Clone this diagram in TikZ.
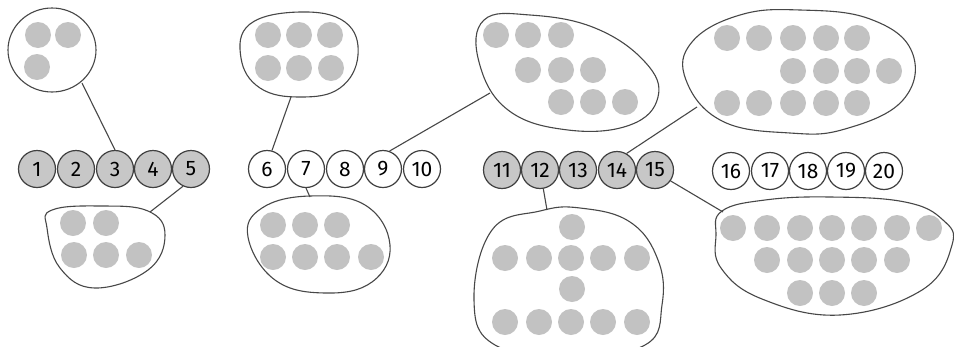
\documentclass[tikz,border=0pt]{standalone}
\usepackage{fontspec}
\setmainfont{Fira Sans}
\begin{document}
\begin{tikzpicture}[x=1pt,y=-1pt,
  numg/.style={circle,draw=black!75,line width=1.2pt,fill=black!22,minimum size=37pt,inner sep=0pt,font=\fontsize{21}{21}\selectfont},
  numw/.style={numg,fill=white},
  dot/.style={circle,fill=black!24,minimum size=26pt,inner sep=0pt},
  blob/.style={draw=black!72,line width=1.1pt},
  link/.style={draw=black!72,line width=1.1pt}]
\useasboundingbox[fill=white] (0,0) rectangle (954,346);
% number circles
\foreach \i/\x in {1/37,2/76,3/115,4/153,5/191}{\node[numg] (n\i) at (\x,169) {\i};}
\foreach \i/\x in {6/267,7/306,8/345,9/383,10/422}{\node[numw] (n\i) at (\x,169) {\i};}
\foreach \i/\x in {11/502,12/540,13/578,14/617,15/655}{\node[numg] (n\i) at (\x,170) {\i};}
\foreach \i/\x in {16/731,17/770,18/808,19/846,20/884}{\node[numw] (n\i) at (\x,171) {\i};}
% blob A (3)
\draw[blob] (52,50) ellipse [x radius=44, y radius=42];
\foreach \p in {(38,35),(68,35),(37,67)} \node[dot] at \p {};
\coordinate (ca) at (82,83);
\draw[link] (ca) -- (n3.north);
% blob B (5)
\draw[blob] plot[smooth cycle,tension=0.7] coordinates {(52,210) (100,206) (148,211) (165,235) (148,270) (95,288) (60,268) (47,228)};
\foreach \p in {(73,223),(106,223),(74,255),(106,255),(139,255)} \node[dot] at \p {};
\coordinate (cb) at (150,212);
\draw[link] (cb) -- (n5.-115);
% blob C (6)
\draw[blob] plot[smooth cycle,tension=0.7] coordinates {(250,24) (300,12) (345,22) (358,55) (340,88) (300,97) (260,88) (241,58)};
\foreach \p in {(268,35),(299,35),(330,35),(268,68),(299,68),(331,68)} \node[dot] at \p {};
\coordinate (cc) at (291,97);
\draw[link] (cc) -- (n6.75);
% blob D (7)
\draw[blob] plot[smooth cycle,tension=0.7] coordinates {(262,208) (310,196) (365,205) (390,245) (372,282) (325,293) (275,280) (248,237)};
\foreach \p in {(273,225),(305,225),(337,225),(273,257),(305,257),(337,257),(371,257)} \node[dot] at \p {};
\coordinate (cd) at (310,197);
\draw[link] (n7.south) -- (cd);
% blob E (9)
\draw[blob] plot[smooth cycle,tension=0.7] coordinates {(484,20) (530,15) (595,28) (645,62) (658,97) (630,125) (568,130) (508,110) (479,62)};
\foreach \p in {(496,35),(528,35),(561,35),(528,70),(561,70),(593,70),(561,102),(593,102),(625,102)} \node[dot] at \p {};
\coordinate (ce) at (490,93);
\draw[link] (ce) -- (n9.70);
% blob F (12)
\draw[blob] plot[smooth cycle,tension=0.7] coordinates {(492,230) (540,211) (580,208) (630,222) (658,260) (662,305) (645,345) (570,356) (495,345) (474,300)};
\foreach \p in {(572,227),(505,258),(539,258),(571,258),(603,258),(637,258),(572,289),(505,322),(539,322),(571,322),(603,322),(637,322)} \node[dot] at \p {};
\coordinate (cf) at (547,210);
\draw[link] (n12.-80) -- (cf);
% blob G (14)
\draw[blob] plot[smooth cycle,tension=0.7] coordinates {(692,42) (740,15) (800,10) (870,19) (912,52) (903,100) (845,129) (790,133) (722,121) (686,80)};
\foreach \p in {(727,38),(759,38),(793,38),(826,38),(857,38),(793,71),(826,71),(857,71),(889,71),(727,103),(759,103),(793,103),(826,103),(857,103)} \node[dot] at \p {};
\coordinate (cg) at (697,107);
\draw[link] (cg) -- (n14.60);
% blob H (15)
\draw[blob] plot[smooth cycle,tension=0.7] coordinates {(722,211) (765,200) (830,197) (905,202) (943,220) (952,245) (922,290) (840,315) (762,299) (721,268) (716,235)};
\foreach \p in {(733,228),(767,228),(800,228),(832,228),(864,228),(897,228),(929,228),(767,260),(800,260),(832,260),(864,260),(897,260),(800,293),(832,293),(864,293)} \node[dot] at \p {};
\coordinate (ch) at (723,212);
\draw[link] (n15.-35) -- (ch);
\end{tikzpicture}
\end{document}
